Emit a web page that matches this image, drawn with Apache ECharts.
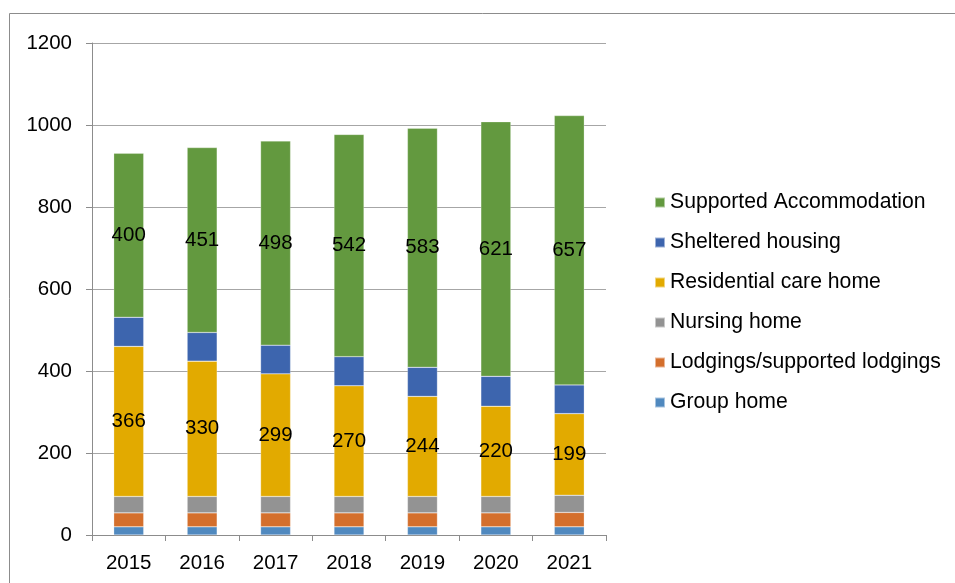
<!DOCTYPE html>
<html>
<head>
<meta charset="utf-8">
<script src="https://cdn.jsdelivr.net/npm/echarts@6/dist/echarts.min.js"></script>
<style>html,body{margin:0;padding:0;background:#fff;}#c{width:955px;height:583px;}</style>
</head>
<body>
<div id="c"></div>
<script>
var years = ['2015','2016','2017','2018','2019','2020','2021'];
var groupHome = [20, 20, 20, 20, 20, 20, 20];
var lodgings = [34, 34, 34, 34, 34, 34, 35];
var nursing = [40, 40, 40, 40, 40, 40, 42];
var residential = [366, 330, 299, 270, 244, 220, 199];
var sheltered = [71, 70, 70, 71, 71, 73, 70];
var supported = [400, 451, 498, 542, 583, 621, 657];
var yTicks = [0, 200, 400, 600, 800, 1000, 1200];

var font = 'Liberation Sans, Arial, sans-serif';
function ser(name, data, color, showLabel) {
  return {
    name: name, type: 'bar', stack: 'total', data: data, barWidth: 30,
    itemStyle: { color: color, borderColor: 'rgba(255,255,255,0.5)', borderWidth: 0.5 },
    label: { show: showLabel, position: 'inside', color: '#000', fontSize: 20.5, fontFamily: font },
    emphasis: { disabled: true }
  };
}
var chart = echarts.init(document.getElementById('c'));
chart.setOption({
  animation: false,
  backgroundColor: '#fff',
  graphic: [
    { type: 'polyline', shape: { points: [[9.5, 583], [9.5, 13.5], [955, 13.5]] }, style: { stroke: '#8c8c8c', lineWidth: 1, fill: null } }
  ],
  grid: { left: 92, right: 349, top: 43, bottom: 48 },
  legend: {
    orient: 'vertical', left: 649, top: 187,
    itemWidth: 10, itemHeight: 10, itemGap: 19,
    icon: 'rect',
    textStyle: { fontSize: 21.2, fontFamily: font, color: '#000', lineHeight: 21 },
    data: ['Supported Accommodation', 'Sheltered housing', 'Residential care home', 'Nursing home', 'Lodgings/supported lodgings', 'Group home']
  },
  xAxis: {
    type: 'category', data: years,
    axisLine: { lineStyle: { color: '#8c8c8c' } },
    axisTick: { show: true, alignWithLabel: false, length: 6, lineStyle: { color: '#8c8c8c' } },
    axisLabel: { fontSize: 20.5, fontFamily: font, color: '#000', margin: 18 }
  },
  yAxis: {
    type: 'value', min: yTicks[0], max: yTicks[yTicks.length-1], interval: 200,
    axisLine: { show: true, lineStyle: { color: '#8c8c8c' } },
    axisTick: { show: true, length: 6, lineStyle: { color: '#8c8c8c' } },
    splitLine: { lineStyle: { color: '#a6a6a6' } },
    axisLabel: { fontSize: 20.5, fontFamily: font, color: '#000', margin: 20, formatter: function (v) { return String(v); } }
  },
  series: [
    ser('Group home', groupHome, '#5089BF', false),
    ser('Lodgings/supported lodgings', lodgings, '#D46F2C', false),
    ser('Nursing home', nursing, '#939393', false),
    ser('Residential care home', residential, '#E2AA00', true),
    ser('Sheltered housing', sheltered, '#3D65AE', false),
    ser('Supported Accommodation', supported, '#63993F', true)
  ]
});
</script>
</body>
</html>
